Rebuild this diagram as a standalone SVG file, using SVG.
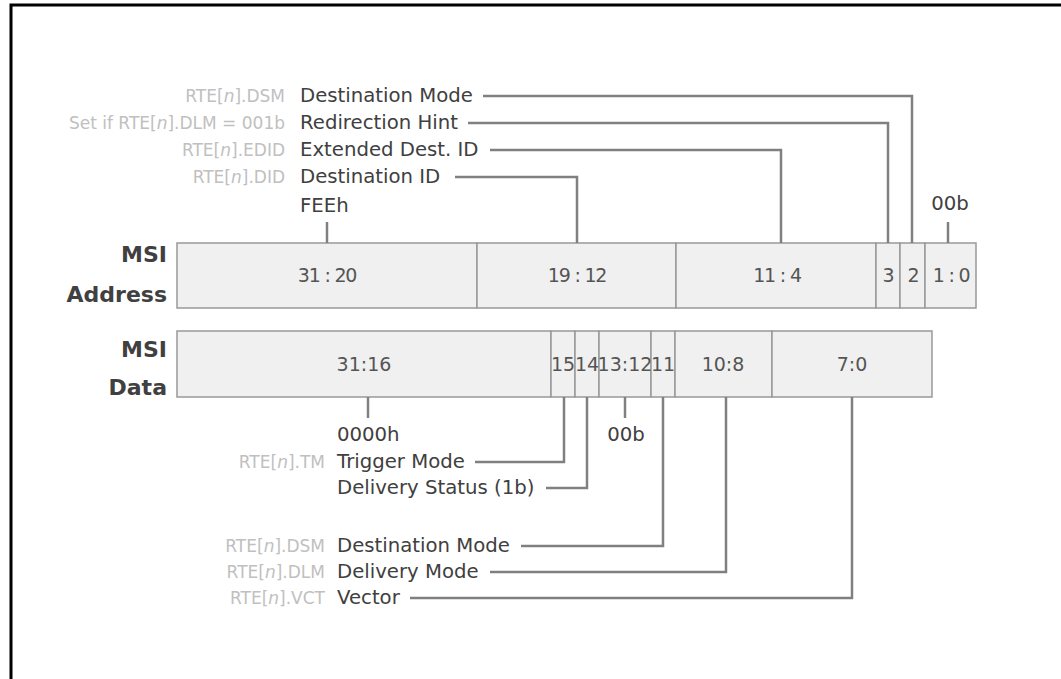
<svg xmlns="http://www.w3.org/2000/svg" width="1061" height="679" viewBox="0 0 1061 679">
<style>
.cell{fill:#f0f0f0;stroke:#999;stroke-width:1.5}
.ct{font-family:"DejaVu Sans",sans-serif;font-size:19px;fill:#555;text-anchor:middle}
.ca{letter-spacing:-1.2px}
.lbl{font-family:"DejaVu Sans",sans-serif;font-size:19.7px;fill:#404040}
.gr{font-family:"DejaVu Sans",sans-serif;font-size:17px;fill:#c0c0c0;text-anchor:end}
.reg{font-family:"DejaVu Sans",sans-serif;font-size:22px;font-weight:bold;fill:#404040;text-anchor:end}
.con{fill:none;stroke:#808080;stroke-width:2.5}
</style>
<rect width="1061" height="679" fill="#fff"/>
<path d="M11,679 V5 H1061" fill="none" stroke="#000" stroke-width="3"/>

<g id="msi-address">
<text class="reg" x="167" y="262">MSI</text>
<text class="reg" x="167" y="302">Address</text>
<rect class="cell" x="177" y="243" width="300" height="65"/>
<rect class="cell" x="477" y="243" width="199" height="65"/>
<rect class="cell" x="676" y="243" width="200" height="65"/>
<rect class="cell" x="876" y="243" width="24" height="65"/>
<rect class="cell" x="900" y="243" width="25" height="65"/>
<rect class="cell" x="925" y="243" width="51" height="65"/>
<text class="ct ca" x="327" y="282">31 : 20</text>
<text class="ct ca" x="577" y="282">19 : 12</text>
<text class="ct ca" x="777" y="282">11 : 4</text>
<text class="ct ca" x="888" y="282">3</text>
<text class="ct ca" x="913" y="282">2</text>
<text class="ct ca" x="951" y="282">1 : 0</text>
</g>

<g id="msi-data">
<text class="reg" x="167" y="357">MSI</text>
<text class="reg" x="167" y="395">Data</text>
<rect class="cell" x="177" y="331" width="374" height="66"/>
<rect class="cell" x="551" y="331" width="24" height="66"/>
<rect class="cell" x="575" y="331" width="24" height="66"/>
<rect class="cell" x="599" y="331" width="52" height="66"/>
<rect class="cell" x="651" y="331" width="24" height="66"/>
<rect class="cell" x="675" y="331" width="97" height="66"/>
<rect class="cell" x="772" y="331" width="160" height="66"/>
<text class="ct" x="364" y="371">31:16</text>
<text class="ct" x="563" y="371">15</text>
<text class="ct" x="587" y="371">14</text>
<text class="ct" x="625" y="371">13:12</text>
<text class="ct" x="663" y="371">11</text>
<text class="ct" x="723" y="371">10:8</text>
<text class="ct" x="852" y="371">7:0</text>
</g>

<g id="connectors">
<path class="con" d="M483,96 H912 V243"/>
<path class="con" d="M468,123 H888 V243"/>
<path class="con" d="M490,150 H781 V243"/>
<path class="con" d="M455,177 H577 V243"/>
<path class="con" d="M327,222 V243"/>
<path class="con" d="M948,222 V243"/>
<path class="con" d="M368,397 V418"/>
<path class="con" d="M564,397 V462 H475"/>
<path class="con" d="M587,397 V488 H546"/>
<path class="con" d="M625,397 V418"/>
<path class="con" d="M663,397 V546 H521"/>
<path class="con" d="M726,397 V572 H490"/>
<path class="con" d="M852,397 V598 H410"/>
</g>

<g id="address-labels">
<text class="gr" x="285" y="102">RTE[<tspan font-style="italic">n</tspan>].DSM</text>
<text class="lbl" x="300" y="102">Destination Mode</text>
<text class="gr" x="285" y="129">Set if RTE[<tspan font-style="italic">n</tspan>].DLM = 001b</text>
<text class="lbl" x="300" y="129">Redirection Hint</text>
<text class="gr" x="285" y="156">RTE[<tspan font-style="italic">n</tspan>].EDID</text>
<text class="lbl" x="300" y="156">Extended Dest. ID</text>
<text class="gr" x="285" y="183">RTE[<tspan font-style="italic">n</tspan>].DID</text>
<text class="lbl" x="300" y="183">Destination ID</text>
<text class="lbl" x="300" y="212">FEEh</text>
<text class="lbl" x="950" y="210" text-anchor="middle">00b</text>
</g>

<g id="data-labels">
<text class="lbl" x="337" y="441">0000h</text>
<text class="lbl" x="626" y="441" text-anchor="middle">00b</text>
<text class="gr" x="325" y="468">RTE[<tspan font-style="italic">n</tspan>].TM</text>
<text class="lbl" x="337" y="468">Trigger Mode</text>
<text class="lbl" x="337" y="494">Delivery Status (1b)</text>
<text class="gr" x="325" y="552">RTE[<tspan font-style="italic">n</tspan>].DSM</text>
<text class="lbl" x="337" y="552">Destination Mode</text>
<text class="gr" x="325" y="578">RTE[<tspan font-style="italic">n</tspan>].DLM</text>
<text class="lbl" x="337" y="578">Delivery Mode</text>
<text class="gr" x="325" y="604">RTE[<tspan font-style="italic">n</tspan>].VCT</text>
<text class="lbl" x="337" y="604">Vector</text>
</g>
</svg>
